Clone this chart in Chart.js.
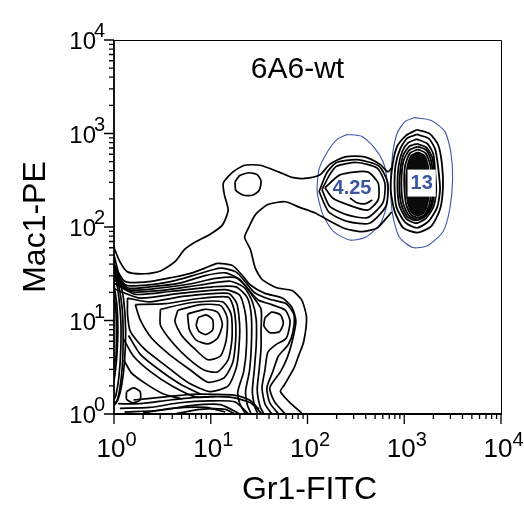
<!DOCTYPE html>
<html><head><meta charset="utf-8">
<script src="https://cdn.jsdelivr.net/npm/chart.js@4/dist/chart.umd.min.js"></script>
<style>html,body{margin:0;padding:0;background:#fff}canvas{display:block}</style>
</head><body>
<canvas id="c" width="524" height="510"></canvas>
<script>
// All coordinates are log10 decades: [log10(Gr1-FITC), log10(Mac1-PE)]
const tickExponents = [0, 1, 2, 3, 4];
const gateLabels = ['4.25', '13'];

const gate425 = [[2.41,2.99],[2.56,2.97],[2.69,2.85],[2.78,2.70],[2.82,2.51],[2.82,2.24],[2.75,2.03],[2.60,1.89],[2.44,1.86],[2.27,1.95],[2.16,2.13],[2.10,2.38],[2.12,2.62],[2.21,2.81],[2.31,2.94]];
const gate13 = [[3.11,3.17],[3.28,3.14],[3.42,3.02],[3.48,2.81],[3.50,2.51],[3.47,2.19],[3.40,1.95],[3.24,1.80],[3.09,1.78],[2.95,1.89],[2.88,2.13],[2.86,2.45],[2.88,2.78],[2.93,3.01],[3.01,3.13]];

const rightPeak = [
 [[3.13,3.04],[3.26,3.00],[3.35,2.88],[3.39,2.67],[3.40,2.42],[3.37,2.19],[3.28,2.01],[3.14,1.94],[2.99,1.99],[2.90,2.17],[2.86,2.40],[2.88,2.67],[2.93,2.87],[3.02,2.98]],
 [[3.13,2.99],[3.25,2.95],[3.32,2.83],[3.35,2.64],[3.37,2.40],[3.34,2.21],[3.25,2.06],[3.13,1.99],[3.01,2.05],[2.92,2.21],[2.90,2.42],[2.91,2.66],[2.96,2.84],[3.03,2.95]],
 [[3.13,2.94],[3.24,2.89],[3.30,2.78],[3.32,2.59],[3.33,2.38],[3.30,2.21],[3.22,2.09],[3.12,2.04],[3.02,2.09],[2.95,2.23],[2.93,2.42],[2.94,2.64],[2.98,2.81],[3.04,2.90]],
 [[3.13,2.89],[3.23,2.85],[3.29,2.74],[3.31,2.56],[3.31,2.37],[3.28,2.21],[3.21,2.11],[3.12,2.07],[3.03,2.11],[2.97,2.24],[2.95,2.42],[2.96,2.62],[2.99,2.77],[3.05,2.86]],
 [[3.14,2.86],[3.23,2.82],[3.28,2.70],[3.30,2.50],[3.28,2.25],[3.22,2.12],[3.14,2.08],[3.05,2.12],[2.99,2.25],[2.97,2.46],[2.99,2.70],[3.05,2.82]],
 [[3.14,2.83],[3.22,2.79],[3.27,2.66],[3.28,2.46],[3.26,2.24],[3.21,2.13],[3.14,2.10],[3.07,2.13],[3.02,2.24],[3.00,2.46],[3.01,2.66],[3.06,2.79]],
 [[3.14,2.80],[3.21,2.76],[3.25,2.63],[3.26,2.46],[3.24,2.25],[3.20,2.15],[3.14,2.12],[3.08,2.15],[3.04,2.25],[3.02,2.46],[3.03,2.63],[3.07,2.76]],
 [[3.14,2.76],[3.20,2.72],[3.24,2.60],[3.25,2.45],[3.23,2.26],[3.19,2.17],[3.14,2.14],[3.09,2.17],[3.06,2.26],[3.04,2.45],[3.05,2.60],[3.08,2.72]],
 [[3.14,2.72],[3.19,2.68],[3.21,2.57],[3.22,2.44],[3.21,2.28],[3.18,2.19],[3.14,2.16],[3.10,2.19],[3.07,2.28],[3.06,2.44],[3.07,2.57],[3.09,2.68]],
 [[3.14,2.68],[3.18,2.64],[3.20,2.54],[3.20,2.42],[3.19,2.30],[3.17,2.23],[3.14,2.21],[3.11,2.23],[3.09,2.30],[3.08,2.42],[3.09,2.54],[3.11,2.64]],
 [[3.14,2.63],[3.17,2.59],[3.18,2.50],[3.18,2.40],[3.17,2.31],[3.14,2.25],[3.11,2.31],[3.10,2.40],[3.10,2.50],[3.11,2.59]]
];
const coreLevel = 6; // densest contour level of the right peak, shown solid

const middlePeak = [
 [[2.12,2.38],[2.20,2.58],[2.30,2.69],[2.51,2.72],[2.74,2.65],[2.83,2.47],[2.81,2.22],[2.64,2.04],[2.41,2.06],[2.22,2.16]],
 [[2.15,2.40],[2.23,2.56],[2.30,2.65],[2.51,2.69],[2.72,2.63],[2.80,2.47],[2.78,2.26],[2.62,2.10],[2.41,2.13],[2.23,2.22]],
 [[2.18,2.42],[2.34,2.56],[2.62,2.59],[2.73,2.47],[2.73,2.29],[2.62,2.18],[2.41,2.24],[2.26,2.31]]
];

const bridgeLoop = [[1.25,2.48],[1.30,2.55],[1.40,2.58],[1.48,2.56],[1.52,2.49],[1.50,2.39],[1.43,2.34],[1.34,2.34],[1.26,2.39]];

const clusterLoops = [
 [[0.14,1.24],[0.37,1.20],[0.73,1.26],[1.18,1.29],[1.27,1.18],[1.30,0.90],[1.27,0.52],[1.18,0.30],[0.99,0.24],[0.76,0.34],[0.53,0.52],[0.32,0.69],[0.17,0.88],[0.14,1.06]],
 [[0.22,1.17],[0.53,1.18],[0.84,1.23],[1.18,1.25],[1.24,1.12],[1.26,0.85],[1.23,0.56],[1.14,0.39],[0.97,0.34],[0.79,0.47],[0.58,0.63],[0.39,0.81],[0.27,1.01]],
 [[0.48,1.12],[0.79,1.19],[1.12,1.20],[1.21,1.07],[1.22,0.81],[1.18,0.58],[1.07,0.45],[0.93,0.47],[0.76,0.60],[0.60,0.77],[0.48,0.95]],
 [[0.66,1.11],[0.89,1.17],[1.10,1.16],[1.17,1.03],[1.16,0.79],[1.10,0.62],[0.97,0.58],[0.84,0.69],[0.70,0.84],[0.63,0.99]],
 [[0.76,1.07],[0.94,1.12],[1.07,1.09],[1.12,0.96],[1.07,0.81],[0.97,0.75],[0.85,0.79],[0.78,0.90]],
 [[0.87,1.03],[0.95,1.06],[1.02,1.01],[1.02,0.90],[0.95,0.85],[0.88,0.88],[0.85,0.95]],
 [[1.56,1.03],[1.63,1.09],[1.72,1.06],[1.75,0.97],[1.71,0.88],[1.61,0.87],[1.55,0.94]],
 [[0.13,0.24],[0.20,0.28],[0.27,0.24],[0.27,0.15],[0.19,0.12],[0.13,0.16]]
];

const openContours = [
 [[0,1.78],[0.06,1.63],[0.14,1.52],[0.32,1.50],[0.48,1.53],[0.63,1.63],[0.73,1.76],[0.84,1.84],[0.99,1.92],[1.12,2.02],[1.18,2.18],[1.14,2.35],[1.13,2.47],[1.23,2.59],[1.35,2.66],[1.51,2.66],[1.70,2.59],[1.84,2.53],[1.97,2.52],[2.13,2.56],[2.23,2.67],[2.39,2.75],[2.59,2.75],[2.75,2.67],[2.83,2.59],[2.87,2.63]],
 [[2.87,2.16],[2.82,2.10],[2.72,1.99],[2.56,1.95],[2.37,1.99],[2.20,2.08],[2.08,2.15],[1.92,2.21],[1.77,2.27],[1.59,2.24],[1.46,2.13],[1.39,1.99],[1.35,1.89],[1.41,1.76],[1.46,1.56],[1.53,1.44],[1.68,1.35],[1.84,1.32],[1.94,1.22],[1.99,1.03],[1.96,0.77],[1.91,0.63],[1.86,0.49],[1.76,0.31],[1.72,0.24],[1.81,0.13],[1.94,0.01]],
 [[0,1.60],[0.11,1.42],[0.32,1.41],[0.60,1.46],[0.81,1.51],[0.94,1.56],[1.07,1.61],[1.22,1.59],[1.32,1.49],[1.41,1.38],[1.56,1.29],[1.74,1.24],[1.84,1.14],[1.88,0.99],[1.84,0.77],[1.79,0.60],[1.72,0.45],[1.61,0.28],[1.66,0.13],[1.77,0]],
 [[0,1.56],[0.12,1.38],[0.35,1.38],[0.64,1.43],[0.88,1.50],[1.10,1.56],[1.26,1.52],[1.36,1.41],[1.45,1.30],[1.60,1.23],[1.78,1.18],[1.86,1.06],[1.85,0.88],[1.80,0.74],[1.70,0.62],[1.64,0.45],[1.58,0.28],[1.61,0.12],[1.70,0]],
 [[0,1.52],[0.14,1.35],[0.37,1.36],[0.68,1.40],[0.94,1.48],[1.15,1.51],[1.30,1.44],[1.39,1.33],[1.49,1.22],[1.63,1.17],[1.77,1.11],[1.82,0.99],[1.78,0.81],[1.67,0.74],[1.59,0.66],[1.56,0.47],[1.53,0.28],[1.56,0.11],[1.63,0]],
 [[0,1.48],[0.15,1.33],[0.42,1.34],[0.78,1.39],[1.05,1.45],[1.25,1.46],[1.36,1.37],[1.44,1.25],[1.52,1.12],[1.52,0.90],[1.52,0.70],[1.50,0.47],[1.48,0.26],[1.51,0.08],[1.55,0]],
 [[0,1.44],[0.17,1.31],[0.48,1.32],[0.89,1.38],[1.20,1.42],[1.35,1.35],[1.43,1.20],[1.47,1.01],[1.47,0.74],[1.45,0.47],[1.43,0.24],[1.46,0.06],[1.49,0]],
 [[0,1.40],[0.22,1.28],[0.58,1.31],[1.02,1.36],[1.26,1.36],[1.38,1.24],[1.42,1.04],[1.42,0.74],[1.40,0.46],[1.36,0.24],[1.38,0.09],[1.42,0]],
 [[0,1.34],[0.27,1.24],[0.68,1.29],[1.15,1.33],[1.30,1.27],[1.36,1.06],[1.37,0.74],[1.34,0.45],[1.28,0.24],[1.30,0.11],[1.36,0]],
 [[2.44,2.31],[2.51,2.26],[2.60,2.25],[2.67,2.29]],
 [[0.15,0.84],[0.27,0.64],[0.47,0.47],[0.70,0.31],[0.90,0.21]],
 [[0.10,0.80],[0.20,0.62],[0.38,0.45],[0.60,0.30],[0.85,0.18],[1.05,0.19]],
 [[0.10,0.58],[0.18,0.44],[0.32,0.33],[0.50,0.22],[0.70,0.16]],
 [[0,1.70],[0.05,1.49],[0.10,1.22],[0.12,0.90],[0.11,0.58],[0.08,0.31],[0.04,0.15],[0,0.09]],
 [[0,1.63],[0.045,1.41],[0.085,1.12],[0.095,0.80],[0.085,0.50],[0.06,0.27],[0.03,0.14],[0,0.11]],
 [[0,1.56],[0.04,1.33],[0.07,1.01],[0.07,0.69],[0.05,0.39],[0.02,0.20],[0,0.15]],
 [[0,1.38],[0.03,1.17],[0.04,0.90],[0.03,0.63],[0.01,0.42],[0,0.36]],
 [[0,1.28],[0.02,1.10],[0.025,0.85],[0.02,0.62],[0,0.50]],
 [[0.04,0.11],[0.27,0.11],[0.58,0.15],[0.89,0.18],[1.20,0.18],[1.41,0.12],[1.53,0]],
 [[0.20,0.15],[0.50,0.18],[0.80,0.21],[1.05,0.21],[1.25,0.20],[1.40,0.15],[1.50,0.05]],
 [[0.06,0.06],[0.37,0.07],[0.68,0.12],[0.99,0.14],[1.25,0.13],[1.39,0]],
 [[0.11,0.02],[0.48,0.04],[0.79,0.09],[1.10,0.10],[1.30,0]],
 [[0.30,0.01],[0.60,0.06],[0.95,0.07],[1.15,0.02]],
 [[0.63,0],[0.89,0.05],[1.15,0.05],[1.25,0]]
];

const toPts = (arr, closed) => {
  const p = arr.map(([a, b]) => ({x: Math.pow(10, a), y: Math.pow(10, b)}));
  if (closed) p.push(p[0]);
  return p;
};
const lineDS = (arr, closed, color, width) => ({
  data: toPts(arr, closed), showLine: true, pointRadius: 0, borderColor: color,
  borderWidth: width, tension: 0.22, fill: false
});

const BLACK = '#000';
const BLUE = '#3b55a2';
const datasets = [];
openContours.forEach(c => datasets.push(lineDS(c, false, BLACK, 1.7)));
clusterLoops.forEach(c => datasets.push(lineDS(c, true, BLACK, 1.7)));
datasets.push(lineDS(bridgeLoop, true, BLACK, 1.7));
middlePeak.forEach(c => datasets.push(lineDS(c, true, BLACK, 1.7)));
let coreIndex = -1;
rightPeak.forEach((c, i) => {
  if (i === coreLevel) coreIndex = datasets.length;
  datasets.push(lineDS(c, true, BLACK, 1.8));
});
const gates = [gate425, gate13];
gates.forEach(g => datasets.push(lineDS(g, true, BLUE, 1.1)));

const FONT = '"Liberation Sans", Arial, sans-serif';

const decor = {
  id: 'decor',
  afterDatasetsDraw(chart) {
    const {ctx, chartArea: a, scales: {x, y}} = chart;
    ctx.save();
    // solid core of the right peak, through the points placed by the library
    const core = chart.getDatasetMeta(coreIndex).data;
    if (core && core.length) {
      ctx.beginPath();
      core.forEach((p, k) => k ? ctx.lineTo(p.x, p.y) : ctx.moveTo(p.x, p.y));
      ctx.closePath();
      ctx.fillStyle = '#0a0a0a';
      ctx.fill();
    }
    gates.forEach((g, i) => {
      const xs = g.map(p => p[0]), ys = g.map(p => p[1]);
      const cx = x.getPixelForValue(Math.pow(10, (Math.min(...xs) + Math.max(...xs)) / 2));
      const cy = y.getPixelForValue(Math.pow(10, (Math.min(...ys) + Math.max(...ys)) / 2));
      ctx.font = 'bold 20px ' + FONT;
      ctx.textAlign = 'center';
      ctx.textBaseline = 'middle';
      const t = gateLabels[i];
      if (i === 1) {
        const w = ctx.measureText(t).width;
        ctx.fillStyle = '#fff';
        ctx.fillRect(cx - w / 2 - 3, cy - 13, w + 6, 27);
      }
      ctx.fillStyle = BLUE;
      ctx.fillText(t, cx, cy + 1);
    });
    ctx.strokeStyle = '#000';
    ctx.lineWidth = 1;
    ctx.beginPath();
    ctx.moveTo(a.left, a.top + 0.5); ctx.lineTo(a.right + 0.5, a.top + 0.5); ctx.lineTo(a.right + 0.5, a.bottom);
    ctx.stroke();
    ctx.lineWidth = 1.8;
    ctx.beginPath();
    ctx.moveTo(a.left, a.top); ctx.lineTo(a.left, a.bottom); ctx.lineTo(a.right + 1, a.bottom);
    ctx.stroke();
    ctx.lineWidth = 1.3;
    ctx.beginPath();
    tickExponents.forEach((e, i) => {
      for (let m = 1; m < 10; m++) {
        if (i === tickExponents.length - 1 && m > 1) break;
        const v = m * Math.pow(10, e);
        const px = x.getPixelForValue(v), py = y.getPixelForValue(v);
        const len = m === 1 ? 10 : 5;
        ctx.moveTo(px, a.bottom); ctx.lineTo(px, a.bottom + len);
        ctx.moveTo(a.left, py); ctx.lineTo(a.left - len, py);
      }
    });
    ctx.stroke();
    ctx.fillStyle = '#000';
    ctx.textBaseline = 'alphabetic';
    tickExponents.forEach(e => {
      const v = Math.pow(10, e);
      const px = x.getPixelForValue(v), py = y.getPixelForValue(v);
      ctx.font = '26px ' + FONT;
      ctx.textAlign = 'center';
      const bw = ctx.measureText('10').width;
      const bx = px - 3;
      ctx.fillText('10', bx, a.bottom + 43);
      ctx.font = '20px ' + FONT;
      ctx.textAlign = 'left';
      ctx.fillText(String(e), bx + bw / 2, a.bottom + 32);
      ctx.font = '24px ' + FONT;
      ctx.textAlign = 'right';
      const yb = a.left - 18;
      ctx.fillText('10', yb, py + 9);
      ctx.font = '20px ' + FONT;
      ctx.textAlign = 'left';
      ctx.fillText(String(e), yb - 2, py - 3);
    });
    ctx.font = '30px ' + FONT;
    ctx.textAlign = 'center';
    ctx.textBaseline = 'middle';
    ctx.fillText('6A6-wt', (a.left + a.right) / 2 - 10, a.top + 30);
    ctx.font = '32px ' + FONT;
    ctx.fillText('Gr1-FITC', (a.left + a.right) / 2 + 2, a.bottom + 76);
    ctx.save();
    ctx.translate(36, (a.top + a.bottom) / 2);
    ctx.rotate(-Math.PI / 2);
    ctx.fillText('Mac1-PE', 0, 0);
    ctx.restore();
    ctx.restore();
  }
};

new Chart(document.getElementById('c'), {
  type: 'scatter',
  data: {datasets},
  options: {
    responsive: false,
    animation: false,
    devicePixelRatio: 1,
    layout: {padding: {left: 114, right: 23, top: 40, bottom: 96}},
    plugins: {legend: {display: false}, tooltip: {enabled: false}, title: {display: false}},
    scales: {
      x: {type: 'logarithmic', min: 1, max: 10000, display: false},
      y: {type: 'logarithmic', min: 1, max: 10000, display: false}
    }
  },
  plugins: [decor]
});
</script>
</body></html>
